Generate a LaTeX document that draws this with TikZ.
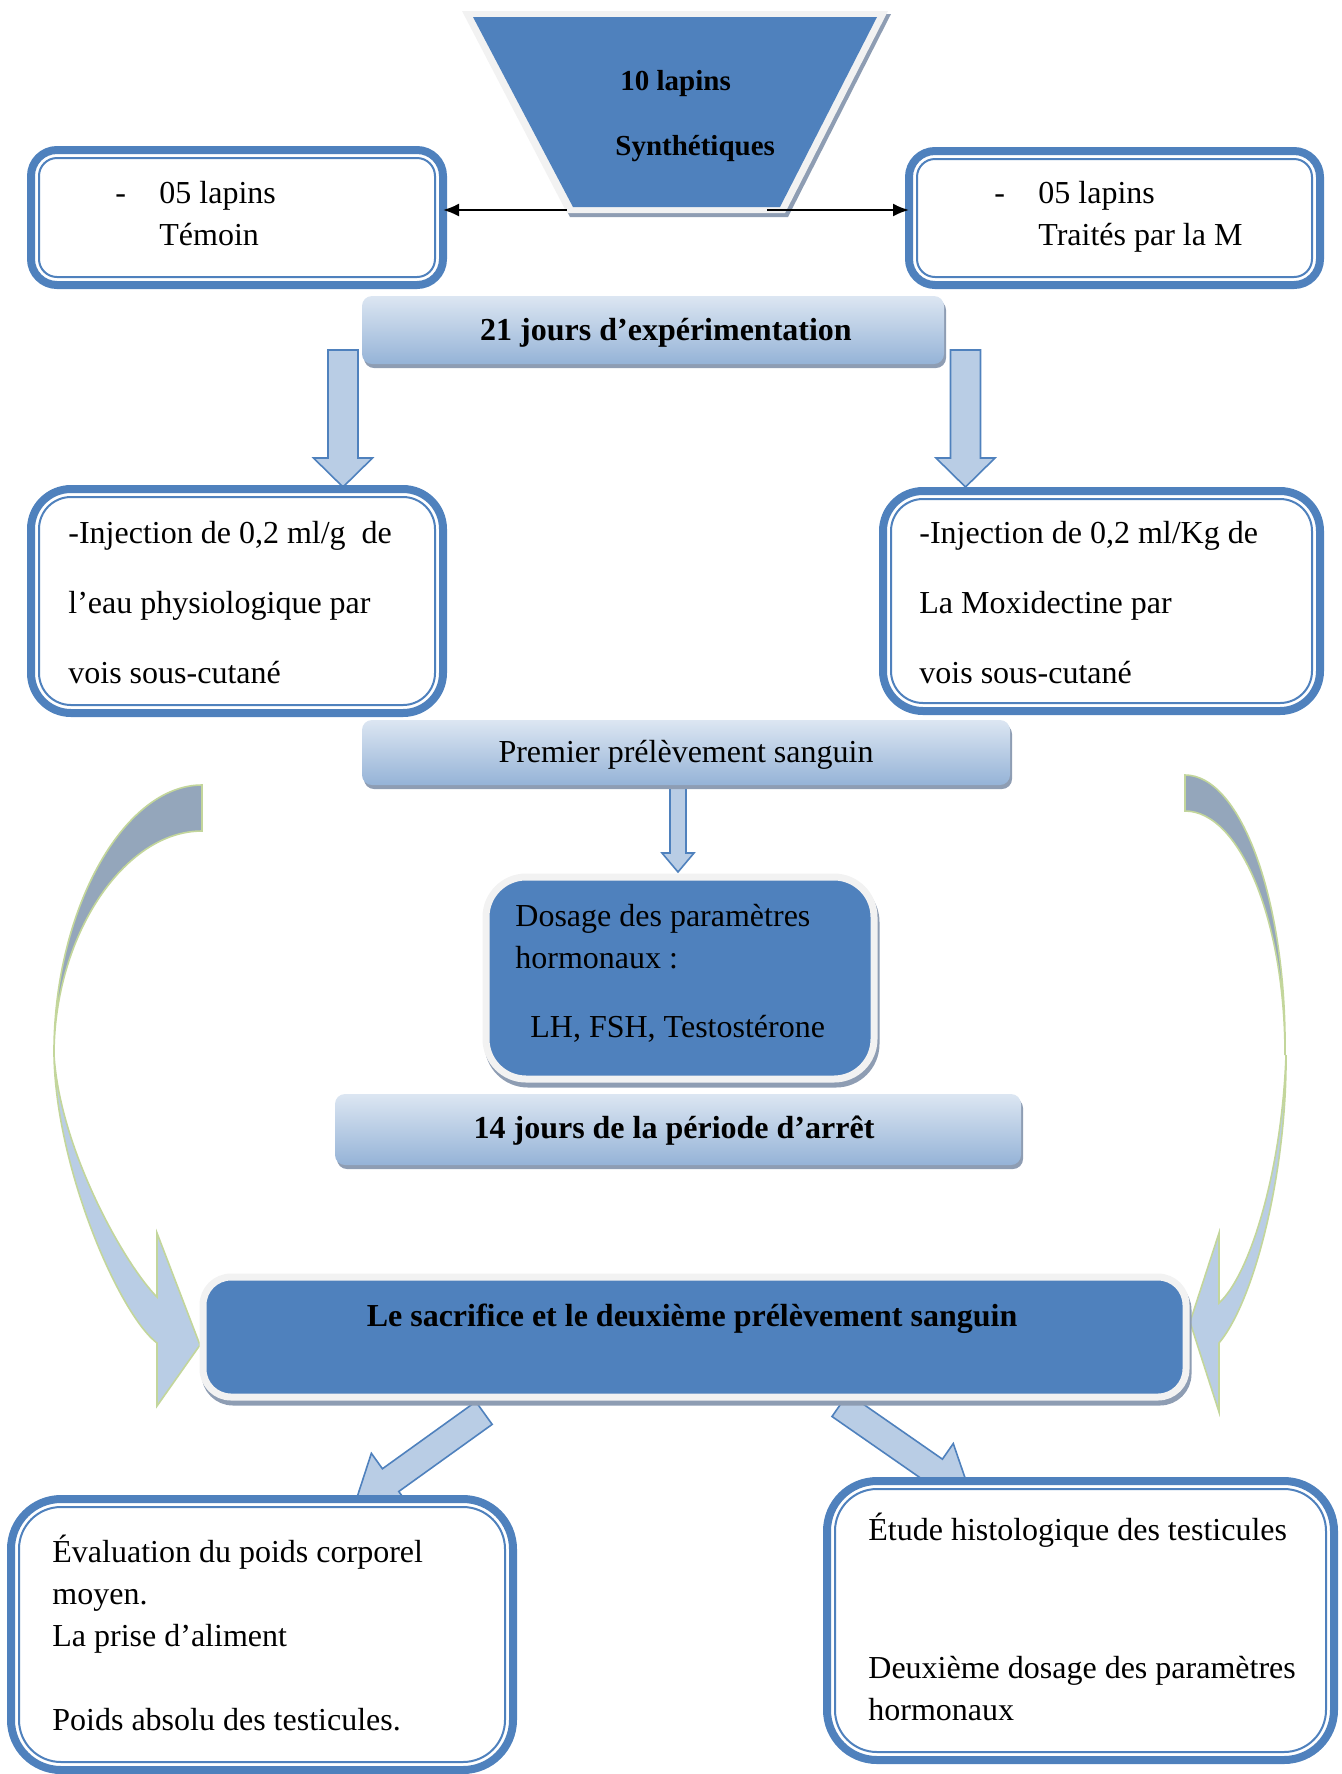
\documentclass[tikz,border=0pt]{standalone}
\usepackage{fontspec}
\setmainfont{Liberation Serif}
\usetikzlibrary{calc,arrows.meta,shadows}

\definecolor{frameblue}{HTML}{4F81BD}
\definecolor{arrowfill}{HTML}{B9CDE5}
\definecolor{bandlight}{HTML}{DCE6F2}
\definecolor{banddark}{HTML}{95B3D7}
\definecolor{shadegray}{HTML}{8E9DB3}
\definecolor{palegray}{HTML}{F2F2F2}
\definecolor{backface}{HTML}{94A6BB}
\definecolor{curveedge}{HTML}{C3D69B}

\tikzset{
  framebox/.style={draw=frameblue, fill=white, line width=4pt, rounded corners=#1, outer sep=0pt, inner sep=0pt},
  frameline/.style={draw=frameblue, line width=1pt, rounded corners=#1},
  band/.style={rounded corners=5pt, top color=bandlight, bottom color=banddark, outer sep=0pt, inner sep=0pt,
    general shadow={fill=shadegray, shadow xshift=1pt, shadow yshift=-2pt}},
  bluebox/.style={fill=frameblue, draw=palegray, line width=3.5pt, rounded corners=#1, outer sep=0pt, inner sep=0pt,
    general shadow={fill=shadegray, draw=shadegray, line width=3.5pt, shadow xshift=1pt, shadow yshift=-2.5pt}},
  blockfill/.style={fill=arrowfill, draw=frameblue, line width=0.8pt, line join=miter},
  curvefill/.style={draw=curveedge, line width=0.8pt},
  link/.style={draw=black, line width=1pt, -{Latex[length=8pt,width=6.5pt]}},
  lbl/.style={font=\fontsize{16}{21}\selectfont, inner sep=0pt, anchor=base west, align=left},
  boldlbl/.style={font=\fontsize{16}{21}\selectfont\bfseries, inner sep=0pt, anchor=base},
}

% block arrow from (#1,#2) at angle #3: length #4, shaft #5, head width #6, head length #7
\newcommand{\blockarrow}[7]{%
  \begin{scope}[shift={(#1,#2)}, rotate=#3]
    \filldraw[blockfill] (0,-#5/2) -- (#4-#7,-#5/2) -- (#4-#7,-#6/2) -- (#4,0)
      -- (#4-#7,#6/2) -- (#4-#7,#5/2) -- (0,#5/2) -- cycle;
  \end{scope}}

\begin{document}
\begin{tikzpicture}[x=0.5pt, y=-0.5pt]
\useasboundingbox (0,0) rectangle (1341,1774);

% curved arrows, left
\filldraw[curvefill, fill=backface] (202,785) -- (202,831) .. controls (124,831) and (54,936) .. (54,1055)
  .. controls (53,912) and (123,785) .. (202,785) -- cycle;
\filldraw[curvefill, fill=arrowfill] (54,1055) .. controls (56,1170) and (120,1315) .. (157,1343)
  -- (157,1406) -- (200,1345) -- (157,1233) -- (157,1297)
  .. controls (125,1265) and (60,1150) .. (54,1055) -- cycle;
% curved arrows, right
\filldraw[curvefill, fill=backface] (1185,775) -- (1185,811) .. controls (1240,811) and (1285,921) .. (1285,1055)
  .. controls (1287,901) and (1241,775) .. (1185,775) -- cycle;
\filldraw[curvefill, fill=arrowfill] (1286,1055) .. controls (1287,1170) and (1255,1300) .. (1219,1343)
  -- (1219,1412) -- (1190,1322) -- (1219,1233) -- (1219,1303)
  .. controls (1250,1275) and (1282,1170) .. (1286,1055) -- cycle;

% block arrows
\blockarrow{343}{350}{-90}{137}{30}{59}{29}
\blockarrow{965.5}{350}{-90}{137}{30}{59}{29}
\blockarrow{678}{775}{-90}{97}{16}{32}{19}
\blockarrow{484}{1413}{215.7}{160}{28}{66}{45}
\blockarrow{840}{1405}{-34.8}{160}{28}{66}{45}

% top trapezoid
\fill[shadegray] (465,14) -- (891,14) -- (788,217) -- (570,217) -- cycle;
\fill[palegray] (462,11) -- (888,11) -- (785,213) -- (567,213) -- cycle;
\fill[frameblue] (473,17) -- (877,17) -- (780,207) -- (573,207) -- cycle;
\node[boldlbl, font=\fontsize{14.5}{21}\selectfont\bfseries, anchor=base west] (synthA) at (620,90) {10 lapins};
\node[boldlbl, font=\fontsize{14.5}{21}\selectfont\bfseries, anchor=base west] (synthB) at (615,155) {Synthétiques};
\coordinate (synthL) at (567,210);
\coordinate (synthR) at (767,210);

% framed boxes
\node[framebox=13pt, minimum width=206pt, minimum height=67.5pt] (temoin) at (237,217.5) {};
\draw[frameline=9pt] ($(temoin.south west)+(8,-8)$) rectangle ($(temoin.north east)+(-8,8)$);
\node[framebox=13pt, minimum width=205.5pt, minimum height=67pt] (traites) at (1114.5,218) {};
\draw[frameline=9pt] ($(traites.south west)+(8,-8)$) rectangle ($(traites.north east)+(-8,8)$);
\node[framebox=20pt, minimum width=206pt, minimum height=112pt] (injL) at (237,601) {};
\draw[frameline=16pt] ($(injL.south west)+(8,-8)$) rectangle ($(injL.north east)+(-8,8)$);
\node[framebox=20pt, minimum width=218.5pt, minimum height=110pt] (injR) at (1101.5,601) {};
\draw[frameline=16pt] ($(injR.south west)+(8,-8)$) rectangle ($(injR.north east)+(-8,8)$);
\node[framebox=25pt, minimum width=251pt, minimum height=135.5pt] (evalbox) at (262,1634.5) {};
\draw[frameline=21pt] ($(evalbox.south west)+(8,-8)$) rectangle ($(evalbox.north east)+(-8,8)$);
\node[framebox=25pt, minimum width=253.5pt, minimum height=139.5pt] (etudebox) at (1080.5,1620.5) {};
\draw[frameline=21pt] ($(etudebox.south west)+(8,-8)$) rectangle ($(etudebox.north east)+(-8,8)$);

% bands
\node[band, minimum width=291pt, minimum height=34pt] (jours21) at (653,330) {};
\node[band, minimum width=324pt, minimum height=32.5pt] (premier) at (686,752.5) {};
\node[band, minimum width=343pt, minimum height=35.5pt] (jours14) at (678,1129.5) {};

% blue boxes
\node[bluebox=20pt, minimum width=194pt, minimum height=101pt] (dosage) at (680,978) {};
\node[bluebox=14pt, minimum width=491.5pt, minimum height=60pt] (sacrifice) at (694.5,1337) {};

% connectors
\draw[link] (synthL) -- (synthL -| temoin.east);
\draw[link] (synthR) -- (synthR -| traites.west);

% texts (multi-line nodes sit on their last baseline)
\node[lbl] (temoinDash) at (115,203) {-};
\node[lbl] (temoinTxt) at (159,245) {05 lapins\\Témoin};
\node[lbl] (traitesDash) at (994,203) {-};
\node[lbl] (traitesTxt) at (1038,245) {05 lapins\\Traités par la M};
\node[boldlbl] (jours21Txt) at (666,340) {21 jours d’expérimentation};
\node[lbl, font=\fontsize{16}{35}\selectfont] (injLTxt) at (68,683) {-Injection de 0,2 ml/g\ \ de\\l’eau physiologique par\\vois sous-cutané};
\node[lbl, font=\fontsize{16}{35}\selectfont] (injRTxt) at (919,683) {-Injection de 0,2 ml/Kg de\\La Moxidectine par\\vois sous-cutané};
\node[lbl, anchor=base] (premierTxt) at (686,762) {Premier prélèvement sanguin};
\node[lbl] (dosageTxt) at (515,968) {Dosage des paramètres\\hormonaux :};
\node[lbl] (dosageHorm) at (530,1037) {LH, FSH, Testostérone};
\node[boldlbl] (jours14Txt) at (674,1138) {14 jours de la période d’arrêt};
\node[boldlbl] (sacrificeTxt) at (692,1326) {Le sacrifice et le deuxième prélèvement sanguin};
\node[lbl] (evalTxt) at (52,1730) {Évaluation du poids corporel\\moyen.\\La prise d’aliment\\[21pt]Poids absolu des testicules.};
\node[lbl] (etudeTxt) at (868,1720) {Étude histologique des testicules\\[48pt]Deuxième dosage des paramètres\\hormonaux};
\end{tikzpicture}
\end{document}
